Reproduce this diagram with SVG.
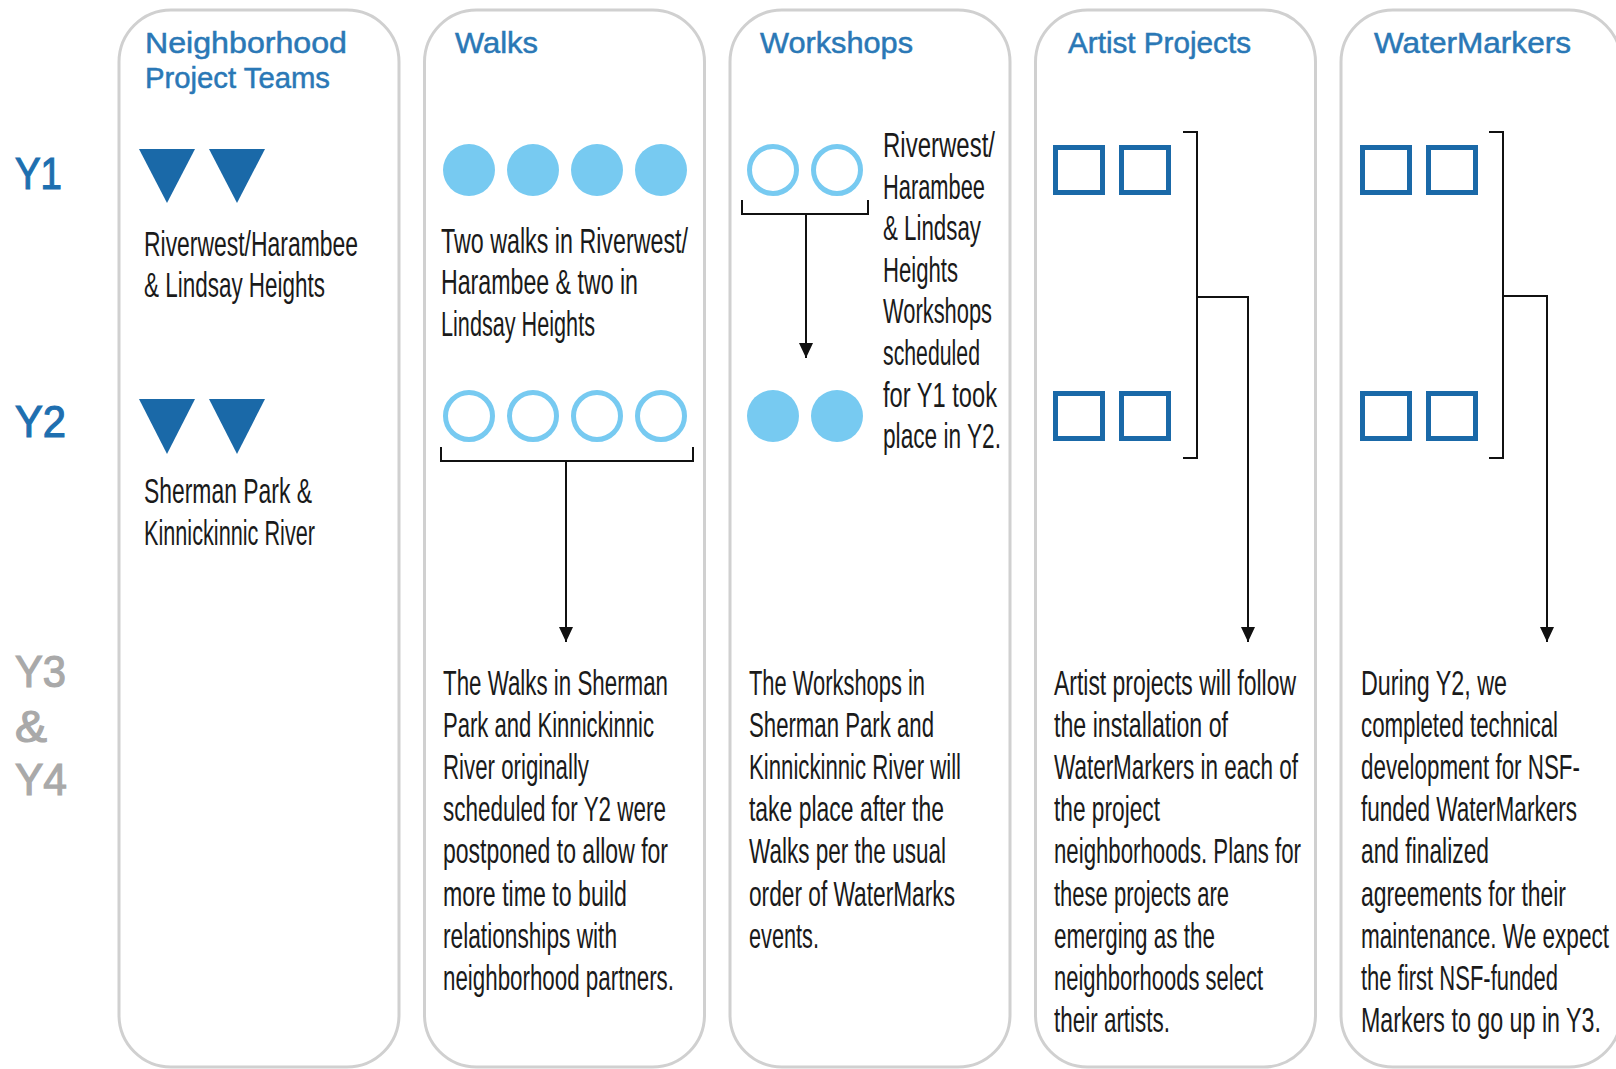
<svg xmlns="http://www.w3.org/2000/svg" width="1616" height="1069" viewBox="0 0 1616 1069">
<defs>
<style>
.panel{fill:#fff;stroke:#d0d0d0;stroke-width:3}
.hdr{font-family:"Liberation Sans",Arial,sans-serif;font-size:29px;fill:#2a78b6;stroke:#2a78b6;stroke-width:0.5}
.body{font-family:"Liberation Sans",Arial,sans-serif;font-size:35px;fill:#1a1a1a}
.yr{font-family:"Liberation Sans",Arial,sans-serif;font-size:44px;fill:#1e6fb0;stroke:#1e6fb0;stroke-width:1.2}
.yg{fill:#a9a9a9;stroke:#a9a9a9}
.tri{fill:#1a69a8}
.dot{fill:#77caf1}
.ring{fill:none;stroke:#77caf1;stroke-width:5}
.sq{fill:none;stroke:#1a69a8;stroke-width:5}
.conn{fill:none;stroke:#111;stroke-width:2}
</style>
<marker id="ah" markerUnits="userSpaceOnUse" markerWidth="16" markerHeight="16" refX="15" refY="7" orient="auto">
<path d="M0,0 L15,7 L0,14 z" fill="#111"/>
</marker>
</defs>
<rect width="1616" height="1069" fill="#fff"/>

<g id="year-labels">
<text class="yr" x="15" y="189" textLength="47" lengthAdjust="spacingAndGlyphs">Y1</text>
<text class="yr" x="15" y="437" textLength="51" lengthAdjust="spacingAndGlyphs">Y2</text>
<text class="yr yg" x="15" y="687" textLength="51" lengthAdjust="spacingAndGlyphs">Y3</text>
<text class="yr yg" x="15" y="742" textLength="32" lengthAdjust="spacingAndGlyphs">&amp;</text>
<text class="yr yg" x="15" y="795" textLength="52" lengthAdjust="spacingAndGlyphs">Y4</text>
</g>

<g id="neighborhood-teams">
<rect class="panel" x="119" y="10" width="280" height="1057" rx="52"/>
<text class="hdr" x="145" y="53" textLength="202" lengthAdjust="spacingAndGlyphs">Neighborhood</text>
<text class="hdr" x="145" y="88" textLength="185" lengthAdjust="spacingAndGlyphs">Project Teams</text>
<polygon class="tri" points="139,149 195,149 167,203"/>
<polygon class="tri" points="209,149 265,149 237,203"/>
<text class="body" x="144" y="256" textLength="214" lengthAdjust="spacingAndGlyphs">Riverwest/Harambee</text>
<text class="body" x="144" y="297" textLength="181" lengthAdjust="spacingAndGlyphs">&amp; Lindsay Heights</text>
<polygon class="tri" points="139,399 195,399 167,454"/>
<polygon class="tri" points="209,399 265,399 237,454"/>
<text class="body" x="144" y="503" textLength="168" lengthAdjust="spacingAndGlyphs">Sherman Park &amp;</text>
<text class="body" x="144" y="545" textLength="171" lengthAdjust="spacingAndGlyphs">Kinnickinnic River</text>
</g>

<g id="walks">
<rect class="panel" x="424.5" y="10" width="280" height="1057" rx="52"/>
<text class="hdr" x="455" y="53" textLength="83" lengthAdjust="spacingAndGlyphs">Walks</text>
<circle class="dot" cx="469" cy="170" r="26"/>
<circle class="dot" cx="533" cy="170" r="26"/>
<circle class="dot" cx="597" cy="170" r="26"/>
<circle class="dot" cx="661" cy="170" r="26"/>
<text class="body" x="441" y="253" textLength="247" lengthAdjust="spacingAndGlyphs">Two walks in Riverwest/</text>
<text class="body" x="441" y="294" textLength="197" lengthAdjust="spacingAndGlyphs">Harambee &amp; two in</text>
<text class="body" x="441" y="336" textLength="154" lengthAdjust="spacingAndGlyphs">Lindsay Heights</text>
<circle class="ring" cx="469" cy="416" r="23.5"/>
<circle class="ring" cx="533" cy="416" r="23.5"/>
<circle class="ring" cx="597" cy="416" r="23.5"/>
<circle class="ring" cx="661" cy="416" r="23.5"/>
<text class="body" x="443" y="695" textLength="225" lengthAdjust="spacingAndGlyphs">The Walks in Sherman</text>
<text class="body" x="443" y="737" textLength="211" lengthAdjust="spacingAndGlyphs">Park and Kinnickinnic</text>
<text class="body" x="443" y="779" textLength="146" lengthAdjust="spacingAndGlyphs">River originally</text>
<text class="body" x="443" y="821" textLength="223" lengthAdjust="spacingAndGlyphs">scheduled for Y2 were</text>
<text class="body" x="443" y="863" textLength="225" lengthAdjust="spacingAndGlyphs">postponed to allow for</text>
<text class="body" x="443" y="906" textLength="184" lengthAdjust="spacingAndGlyphs">more time to build</text>
<text class="body" x="443" y="948" textLength="174" lengthAdjust="spacingAndGlyphs">relationships with</text>
<text class="body" x="443" y="990" textLength="231" lengthAdjust="spacingAndGlyphs">neighborhood partners.</text>
</g>

<g id="workshops">
<rect class="panel" x="730" y="10" width="280" height="1057" rx="52"/>
<text class="hdr" x="760" y="53" textLength="153" lengthAdjust="spacingAndGlyphs">Workshops</text>
<circle class="ring" cx="773" cy="170" r="23.5"/>
<circle class="ring" cx="837" cy="170" r="23.5"/>
<circle class="dot" cx="773" cy="416" r="26"/>
<circle class="dot" cx="837" cy="416" r="26"/>
<text class="body" x="883" y="157" textLength="112" lengthAdjust="spacingAndGlyphs">Riverwest/</text>
<text class="body" x="883" y="198.6" textLength="102" lengthAdjust="spacingAndGlyphs">Harambee</text>
<text class="body" x="883" y="240.2" textLength="98" lengthAdjust="spacingAndGlyphs">&amp; Lindsay</text>
<text class="body" x="883" y="281.8" textLength="75" lengthAdjust="spacingAndGlyphs">Heights</text>
<text class="body" x="883" y="323.4" textLength="109" lengthAdjust="spacingAndGlyphs">Workshops</text>
<text class="body" x="883" y="365" textLength="97" lengthAdjust="spacingAndGlyphs">scheduled</text>
<text class="body" x="883" y="406.6" textLength="114" lengthAdjust="spacingAndGlyphs">for Y1 took</text>
<text class="body" x="883" y="448.2" textLength="118" lengthAdjust="spacingAndGlyphs">place in Y2.</text>
<text class="body" x="749" y="695" textLength="176" lengthAdjust="spacingAndGlyphs">The Workshops in</text>
<text class="body" x="749" y="737" textLength="185" lengthAdjust="spacingAndGlyphs">Sherman Park and</text>
<text class="body" x="749" y="779" textLength="212" lengthAdjust="spacingAndGlyphs">Kinnickinnic River will</text>
<text class="body" x="749" y="821" textLength="195" lengthAdjust="spacingAndGlyphs">take place after the</text>
<text class="body" x="749" y="863" textLength="197" lengthAdjust="spacingAndGlyphs">Walks per the usual</text>
<text class="body" x="749" y="906" textLength="206" lengthAdjust="spacingAndGlyphs">order of WaterMarks</text>
<text class="body" x="749" y="948" textLength="70" lengthAdjust="spacingAndGlyphs">events.</text>
</g>

<g id="artist-projects">
<rect class="panel" x="1035.5" y="10" width="280" height="1057" rx="52"/>
<text class="hdr" x="1068" y="53" textLength="183" lengthAdjust="spacingAndGlyphs">Artist Projects</text>
<rect class="sq" x="1055.5" y="147.5" width="47" height="45"/>
<rect class="sq" x="1121.5" y="147.5" width="47" height="45"/>
<rect class="sq" x="1055.5" y="393.5" width="47" height="45"/>
<rect class="sq" x="1121.5" y="393.5" width="47" height="45"/>
<text class="body" x="1054" y="695" textLength="242" lengthAdjust="spacingAndGlyphs">Artist projects will follow</text>
<text class="body" x="1054" y="737" textLength="174" lengthAdjust="spacingAndGlyphs">the installation of</text>
<text class="body" x="1054" y="779" textLength="244" lengthAdjust="spacingAndGlyphs">WaterMarkers in each of</text>
<text class="body" x="1054" y="821" textLength="106" lengthAdjust="spacingAndGlyphs">the project</text>
<text class="body" x="1054" y="863" textLength="247" lengthAdjust="spacingAndGlyphs">neighborhoods. Plans for</text>
<text class="body" x="1054" y="906" textLength="175" lengthAdjust="spacingAndGlyphs">these projects are</text>
<text class="body" x="1054" y="948" textLength="161" lengthAdjust="spacingAndGlyphs">emerging as the</text>
<text class="body" x="1054" y="990" textLength="209" lengthAdjust="spacingAndGlyphs">neighborhoods select</text>
<text class="body" x="1054" y="1032" textLength="116" lengthAdjust="spacingAndGlyphs">their artists.</text>
</g>

<g id="watermarkers">
<rect class="panel" x="1341" y="10" width="280" height="1057" rx="52"/>
<text class="hdr" x="1374" y="53" textLength="197" lengthAdjust="spacingAndGlyphs">WaterMarkers</text>
<rect class="sq" x="1362.5" y="147.5" width="47" height="45"/>
<rect class="sq" x="1428.5" y="147.5" width="47" height="45"/>
<rect class="sq" x="1362.5" y="393.5" width="47" height="45"/>
<rect class="sq" x="1428.5" y="393.5" width="47" height="45"/>
<text class="body" x="1361" y="695" textLength="146" lengthAdjust="spacingAndGlyphs">During Y2, we</text>
<text class="body" x="1361" y="737" textLength="197" lengthAdjust="spacingAndGlyphs">completed technical</text>
<text class="body" x="1361" y="779" textLength="219" lengthAdjust="spacingAndGlyphs">development for NSF-</text>
<text class="body" x="1361" y="821" textLength="216" lengthAdjust="spacingAndGlyphs">funded WaterMarkers</text>
<text class="body" x="1361" y="863" textLength="128" lengthAdjust="spacingAndGlyphs">and finalized</text>
<text class="body" x="1361" y="906" textLength="205" lengthAdjust="spacingAndGlyphs">agreements for their</text>
<text class="body" x="1361" y="948" textLength="248" lengthAdjust="spacingAndGlyphs">maintenance. We expect</text>
<text class="body" x="1361" y="990" textLength="197" lengthAdjust="spacingAndGlyphs">the first NSF-funded</text>
<text class="body" x="1361" y="1032" textLength="240" lengthAdjust="spacingAndGlyphs">Markers to go up in Y3.</text>
</g>

<g id="connectors">
<path class="conn" d="M441,447 V461 H693 V447"/>
<path class="conn" d="M566,461 V642" marker-end="url(#ah)"/>
<path class="conn" d="M742,200 V214 H868 V200"/>
<path class="conn" d="M806,214 V358" marker-end="url(#ah)"/>
<path class="conn" d="M1183,132 H1197 V458 H1183"/>
<path class="conn" d="M1197,297 H1248 V642" marker-end="url(#ah)"/>
<path class="conn" d="M1489,132 H1503 V458 H1489"/>
<path class="conn" d="M1503,296 H1547 V642" marker-end="url(#ah)"/>
</g>
</svg>
